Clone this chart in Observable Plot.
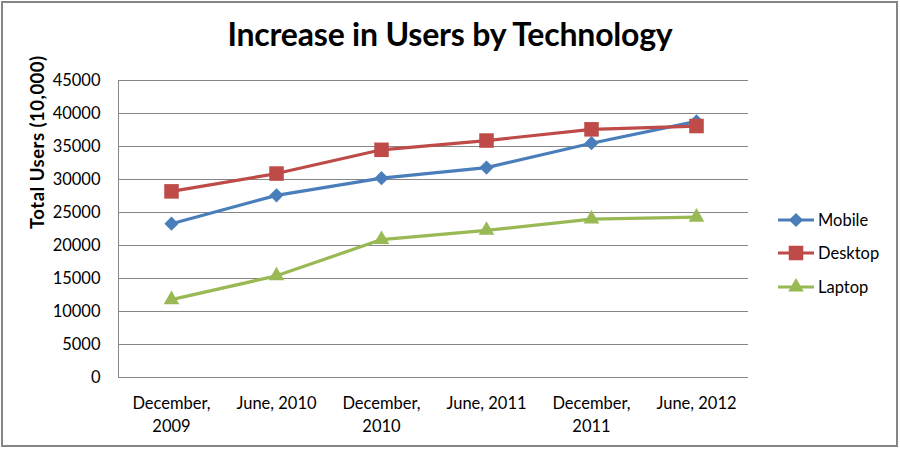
<!DOCTYPE html>
<html>
<head>
<meta charset="utf-8">
<script src="https://cdn.jsdelivr.net/npm/d3@7"></script>
<script src="https://cdn.jsdelivr.net/npm/@observablehq/plot@0.6"></script>
<style>
  html, body { margin: 0; padding: 0; background: #fff; }
  #chart { position: relative; width: 900px; height: 449px; font-family: Lato, "Open Sans", sans-serif; color: #000; }
  #frame { position: absolute; left: 1px; top: 1px; width: 897px; height: 446px; box-sizing: border-box; border: 2px solid #858585; pointer-events: none; }
  #title { position: absolute; left: 0; top: 14px; width: 900px; text-align: center; font-size: 32px; font-weight: bold; letter-spacing: -0.2px; }
  #plot { position: absolute; left: 0; top: 0; }
  #legend { position: absolute; left: 776px; top: 0; }
  .entry { position: absolute; left: 0; display: flex; align-items: center; white-space: nowrap; font-size: 16.5px; }
  .entry svg { display: block; margin-right: 2px; }
  .ylabel { letter-spacing: 0.5px; }
</style>
</head>
<body>
<div id="chart">
  <div id="plot"></div>
  <div id="title">Increase in Users by Technology</div>
  <div id="legend"></div>
  <div id="frame"></div>
</div>
<script>
// Reporting periods along the horizontal axis
const periods = ["December,\n2009", "June, 2010", "December,\n2010", "June, 2011", "December,\n2011", "June, 2012"];

// Total users (in units of 10,000) per technology
const mobile  = [23300, 27600, 30200, 31800, 35500, 38800];
const desktop = [28200, 30900, 34500, 35900, 37600, 38100];
const laptop  = [11800, 15400, 20900, 22300, 24000, 24300];

const seriesNames = ["Mobile", "Desktop", "Laptop"];
const seriesColors = ["#4a7ebb", "#be4b48", "#98b954"];
const seriesSymbols = ["diamond2", "square", "triangle"];
const seriesRadius = [6.4, 8.2, 5.8];

const yTicks = [0, 5000, 10000, 15000, 20000, 25000, 30000, 35000, 40000, 45000];

const values = [mobile, desktop, laptop];
const rows = [];
seriesNames.forEach((name, s) => {
  values[s].forEach((v, i) => rows.push({series: name, period: periods[i], users: v}));
});

const marks = [
  Plot.ruleY(yTicks, {stroke: "#868686", strokeWidth: 1}),
  // left axis line
  Plot.frame({anchor: "left", stroke: "#868686", strokeWidth: 1}),
  Plot.axisY({ticks: yTicks, tickSize: 0, tickPadding: 18, tickFormat: d => String(d), fontSize: 16.5, label: null}),
  Plot.axisX({tickSize: 0, tickPadding: 16, fontSize: 16.5, label: null, lineHeight: 1.35}),
  Plot.text(["Total Users (10,000)"], {frameAnchor: "left", dx: -80, rotate: -90, fontWeight: "bold", fontSize: 18.5, fill: "#000", className: "ylabel"})
];
seriesNames.forEach((name, s) => {
  const data = rows.filter(r => r.series === name);
  marks.push(Plot.line(data, {x: "period", y: "users", stroke: seriesColors[s], strokeWidth: 3.2}));
  marks.push(Plot.dot(data, {x: "period", y: "users", symbol: seriesSymbols[s], r: seriesRadius[s], fill: seriesColors[s], stroke: "none"}));
});

const chart = Plot.plot({
  width: 900,
  height: 449,
  marginTop: 80,
  marginBottom: 72,
  marginLeft: 118,
  marginRight: 152,
  style: {fontFamily: "Lato, 'Open Sans', sans-serif", color: "#000", background: "transparent"},
  x: {type: "point", domain: periods, padding: 0.5},
  y: {domain: [0, 45000]},
  marks
});
document.getElementById("plot").appendChild(chart);

// Legend entries: line segment with the series marker, then its name
const legend = d3.select("#legend");
const legendY = [220, 253, 287];
seriesNames.forEach((name, s) => {
  const entry = legend.append("div").attr("class", "entry").style("top", (legendY[s] - 10) + "px");
  const sw = entry.append("svg").attr("width", 40).attr("height", 20);
  sw.append("line").attr("x1", 2).attr("x2", 38).attr("y1", 10).attr("y2", 10)
    .attr("stroke", seriesColors[s]).attr("stroke-width", 3.2);
  const sym = {diamond2: d3.symbolDiamond2, square: d3.symbolSquare, triangle: d3.symbolTriangle}[seriesSymbols[s]];
  const r = seriesRadius[s];
  sw.append("path").attr("transform", "translate(20,10)")
    .attr("d", d3.symbol(sym, Math.PI * r * r)()).attr("fill", seriesColors[s]);
  entry.append("span").text(name);
});
</script>
</body>
</html>
